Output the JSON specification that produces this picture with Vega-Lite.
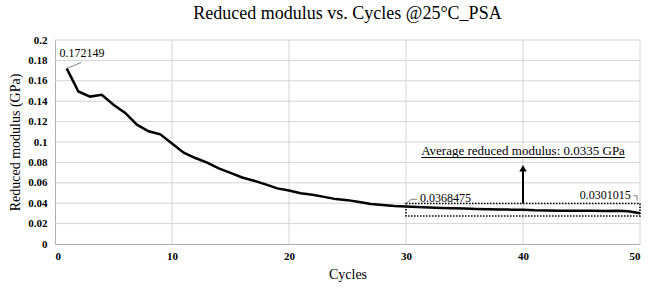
{
  "$schema": "https://vega.github.io/schema/vega-lite/v6.json",
  "autosize": "none",
  "width": 585,
  "height": 204,
  "padding": {"left": 55, "top": 40, "right": 21, "bottom": 54},
  "background": "white",
  "config": {
    "font": "Liberation Serif",
    "view": {"stroke": null}
  },
  "title": {
    "text": "Reduced modulus vs. Cycles @25°C_PSA",
    "font": "Liberation Serif",
    "fontSize": 18,
    "fontWeight": "normal",
    "color": "#000000",
    "offset": 11
  },
  "datasets": {
    "series": [
      {"x": 1, "y": 0.172149},
      {"x": 2, "y": 0.1495},
      {"x": 3, "y": 0.1445},
      {"x": 4, "y": 0.1462},
      {"x": 5, "y": 0.1365},
      {"x": 6, "y": 0.1285},
      {"x": 7, "y": 0.117},
      {"x": 8, "y": 0.1105},
      {"x": 9, "y": 0.1075},
      {"x": 10, "y": 0.0985},
      {"x": 11, "y": 0.0895},
      {"x": 12, "y": 0.0843},
      {"x": 13, "y": 0.0797},
      {"x": 14, "y": 0.0742},
      {"x": 15, "y": 0.0698},
      {"x": 16, "y": 0.0652},
      {"x": 17, "y": 0.062},
      {"x": 18, "y": 0.0585},
      {"x": 19, "y": 0.0545},
      {"x": 20, "y": 0.0525},
      {"x": 21, "y": 0.0497},
      {"x": 22, "y": 0.0482},
      {"x": 23, "y": 0.0462},
      {"x": 24, "y": 0.044},
      {"x": 25, "y": 0.043},
      {"x": 26, "y": 0.0412},
      {"x": 27, "y": 0.0393},
      {"x": 28, "y": 0.0382},
      {"x": 29, "y": 0.0373},
      {"x": 30, "y": 0.0368475},
      {"x": 31, "y": 0.0363},
      {"x": 32, "y": 0.0358},
      {"x": 33, "y": 0.0354},
      {"x": 34, "y": 0.035},
      {"x": 35, "y": 0.0347},
      {"x": 36, "y": 0.0344},
      {"x": 37, "y": 0.0341},
      {"x": 38, "y": 0.0339},
      {"x": 39, "y": 0.0337},
      {"x": 40, "y": 0.0335},
      {"x": 41, "y": 0.033},
      {"x": 42, "y": 0.0328},
      {"x": 43, "y": 0.0327},
      {"x": 44, "y": 0.0326},
      {"x": 45, "y": 0.0325},
      {"x": 46, "y": 0.0325},
      {"x": 47, "y": 0.0324},
      {"x": 48, "y": 0.0326},
      {"x": 49, "y": 0.0322},
      {"x": 50, "y": 0.0301015}
    ],
    "xGrid": [
      {"x": 10, "y": 0, "y2": 0.2},
      {"x": 20, "y": 0, "y2": 0.2},
      {"x": 30, "y": 0, "y2": 0.2},
      {"x": 40, "y": 0, "y2": 0.2},
      {"x": 50, "y": 0, "y2": 0.2}
    ],
    "yGrid": [
      {"x": 0, "x2": 50, "y": 0.02},
      {"x": 0, "x2": 50, "y": 0.04},
      {"x": 0, "x2": 50, "y": 0.06},
      {"x": 0, "x2": 50, "y": 0.08},
      {"x": 0, "x2": 50, "y": 0.1},
      {"x": 0, "x2": 50, "y": 0.12},
      {"x": 0, "x2": 50, "y": 0.14},
      {"x": 0, "x2": 50, "y": 0.16},
      {"x": 0, "x2": 50, "y": 0.18},
      {"x": 0, "x2": 50, "y": 0.2}
    ],
    "box": [{"x": 30, "x2": 50, "y": 0.0275, "y2": 0.0398}],
    "arrow": [{"x": 40, "y": 0.0398, "y2": 0.0715}],
    "arrowTip": [{"x": 40, "y": 0.0742}],
    "underline": [{"x": 31.3, "x2": 48.7, "y": 0.0848}],
    "leaders": [
      {"id": "a", "order": 1, "x": 1.04, "y": 0.1722},
      {"id": "a", "order": 2, "x": 2.24, "y": 0.178},
      {"id": "b", "order": 1, "x": 30.0, "y": 0.0398},
      {"id": "b", "order": 2, "x": 30.45, "y": 0.0438},
      {"id": "b", "order": 3, "x": 30.95, "y": 0.0438},
      {"id": "c", "order": 1, "x": 49.45, "y": 0.0473},
      {"id": "c", "order": 2, "x": 49.75, "y": 0.0473},
      {"id": "c", "order": 3, "x": 49.75, "y": 0.0425}
    ],
    "leftLabels": [
      {"label": "0.172149", "x": 0.38, "y": 0.183},
      {"label": "0.0368475", "x": 31.2, "y": 0.0415}
    ],
    "rightLabels": [
      {"label": "0.0301015", "x": 49.2, "y": 0.0438}
    ],
    "note": [{"label": "Average reduced modulus: 0.0335 GPa", "x": 40, "y": 0.0868}]
  },
  "encoding": {
    "x": {
      "field": "x", "type": "quantitative",
      "scale": {"domain": [0, 50], "nice": false},
      "axis": {
        "title": "Cycles", "values": [0, 10, 20, 30, 40, 50],
        "grid": false,
        "domainColor": "#b0b0b0", "ticks": false, "labelOverlap": false,
        "labelFont": "Liberation Serif", "labelFontSize": 11, "labelFontWeight": "bold", "labelColor": "#000000",
        "labelPadding": 6,
        "titleFont": "Liberation Serif", "titleFontSize": 14, "titleFontWeight": "normal", "titleColor": "#000000",
        "titlePadding": 6
      }
    },
    "y": {
      "field": "y", "type": "quantitative",
      "scale": {"domain": [0, 0.2], "nice": false},
      "axis": {
        "title": "Reduced modulus (GPa)",
        "values": [0, 0.02, 0.04, 0.06, 0.08, 0.1, 0.12, 0.14, 0.16, 0.18, 0.2],
        "format": "~g",
        "grid": false,
        "domainColor": "#b0b0b0", "ticks": false, "labelOverlap": false,
        "labelFont": "Liberation Serif", "labelFontSize": 11, "labelFontWeight": "bold", "labelColor": "#000000",
        "labelPadding": 8,
        "titleFont": "Liberation Serif", "titleFontSize": 14, "titleFontWeight": "normal", "titleColor": "#000000",
        "titlePadding": 5
      }
    }
  },
  "layer": [
    {
      "data": {"name": "xGrid"},
      "mark": {"type": "rule", "color": "#d4d4d4", "strokeWidth": 1},
      "encoding": {"y2": {"field": "y2"}}
    },
    {
      "data": {"name": "yGrid"},
      "mark": {"type": "rule", "color": "#d4d4d4", "strokeWidth": 1},
      "encoding": {"x2": {"field": "x2"}}
    },
    {
      "data": {"name": "series"},
      "mark": {"type": "line", "color": "#000000", "strokeWidth": 2.5}
    },
    {
      "data": {"name": "box"},
      "mark": {"type": "rect", "fill": null, "fillOpacity": 0, "stroke": "#000000", "strokeWidth": 1.5, "strokeDash": [1.5, 1.5]},
      "encoding": {"x2": {"field": "x2"}, "y2": {"field": "y2"}}
    },
    {
      "data": {"name": "arrow"},
      "mark": {"type": "rule", "color": "#000000", "strokeWidth": 2},
      "encoding": {"y2": {"field": "y2"}}
    },
    {
      "data": {"name": "arrowTip"},
      "mark": {"type": "point", "shape": "triangle-up", "filled": true, "color": "#000000", "size": 55, "opacity": 1}
    },
    {
      "data": {"name": "underline"},
      "mark": {"type": "rule", "color": "#000000", "strokeWidth": 1},
      "encoding": {"x2": {"field": "x2"}}
    },
    {
      "data": {"name": "leaders"},
      "mark": {"type": "line", "color": "#7f7f7f", "strokeWidth": 1},
      "encoding": {"detail": {"field": "id"}, "order": {"field": "order"}}
    },
    {
      "data": {"name": "leftLabels"},
      "mark": {"type": "text", "font": "Liberation Serif", "fontSize": 12, "color": "#000000", "baseline": "alphabetic", "align": "left"},
      "encoding": {"text": {"field": "label"}}
    },
    {
      "data": {"name": "rightLabels"},
      "mark": {"type": "text", "font": "Liberation Serif", "fontSize": 12, "color": "#000000", "baseline": "alphabetic", "align": "right"},
      "encoding": {"text": {"field": "label"}}
    },
    {
      "data": {"name": "note"},
      "mark": {"type": "text", "font": "Liberation Serif", "fontSize": 13, "fontWeight": "normal", "color": "#000000", "baseline": "alphabetic", "align": "center"},
      "encoding": {"text": {"field": "label"}}
    }
  ]
}
